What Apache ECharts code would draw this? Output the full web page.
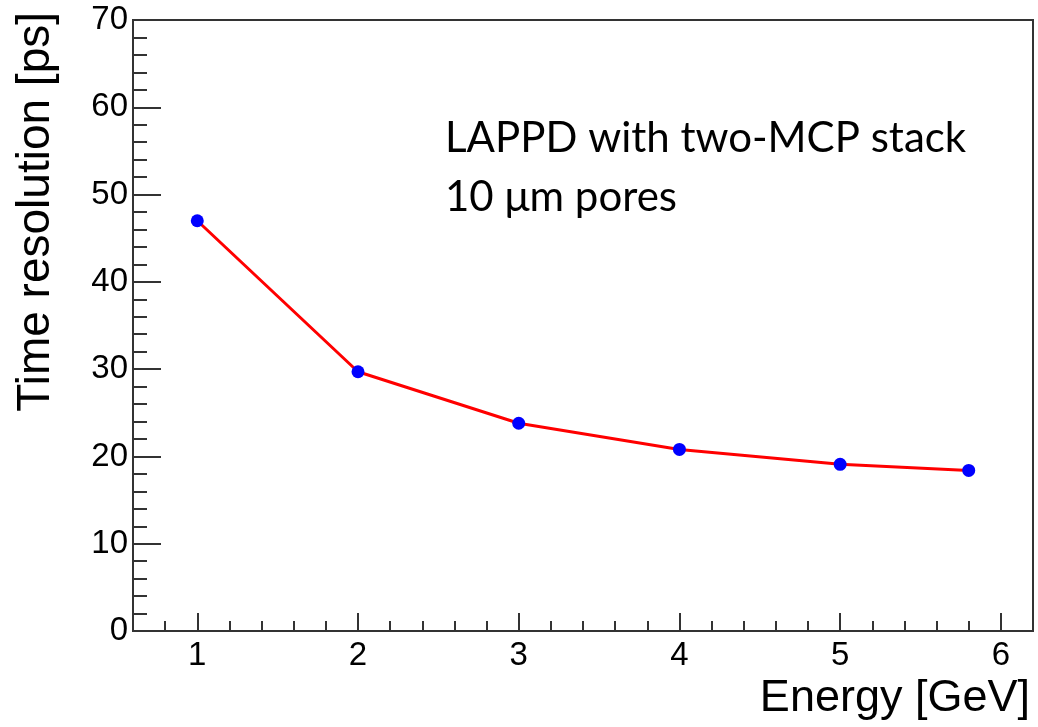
<!DOCTYPE html>
<html>
<head>
<meta charset="utf-8">
<script src="https://cdn.jsdelivr.net/npm/echarts@6/dist/echarts.min.js"></script>
<style>
html,body{margin:0;padding:0;background:#fff;}
#chart{width:1038px;height:727px;}
</style>
</head>
<body>
<div id="chart"></div>
<script>
// Data
const energy = [1, 2, 3, 4, 5, 5.8];
const resolution = [47.0, 29.7, 23.8, 20.8, 19.1, 18.4];
const xMajorTicks = [1, 2, 3, 4, 5, 6];
const xTitle = 'Energy [GeV]';
const yTitle = 'Time resolution [ps]';
const noteLines = ['LAPPD with two-MCP stack', '10 \u03bcm pores'];

const points = energy.map((e, i) => [e, resolution[i]]);
const axisFont = 'Liberation Sans';

const chart = echarts.init(document.getElementById('chart'), null, {renderer: 'canvas'});
chart.setOption({
  animation: false,
  backgroundColor: '#ffffff',
  grid: {
    left: 133, top: 20, right: 5, bottom: 96,
    show: true, borderColor: '#333', borderWidth: 2, backgroundColor: 'transparent'
  },
  xAxis: [
    {
      type: 'value', min: 0.6, max: 6.2, interval: 0.2, position: 'bottom',
      axisLine: {show: true, lineStyle: {color: '#333', width: 2}},
      axisTick: {show: true, inside: true, length: 10, lineStyle: {color: '#333', width: 2}},
      axisLabel: {show: false},
      splitLine: {show: false}
    },
    {
      type: 'value', min: 0.6, max: 6.2, position: 'bottom',
      axisLine: {show: false},
      axisTick: {show: true, inside: true, length: 18, customValues: xMajorTicks, lineStyle: {color: '#333', width: 2}},
      axisLabel: {show: true, customValues: xMajorTicks, fontFamily: axisFont, fontSize: 33, color: '#000', margin: 8},
      splitLine: {show: false}
    }
  ],
  yAxis: {
    type: 'value', min: 0, max: 70, interval: 10,
    axisLine: {show: true, lineStyle: {color: '#333', width: 2}},
    axisTick: {show: true, inside: true, length: 28, lineStyle: {color: '#333', width: 2}},
    minorTick: {show: true, splitNumber: 5, length: 14, lineStyle: {color: '#333', width: 2}},
    axisLabel: {fontFamily: axisFont, fontSize: 33, color: '#000', margin: 5},
    splitLine: {show: false}
  },
  graphic: [
    {
      type: 'text', x: 1030, y: 676,
      style: {text: xTitle, font: '45px "Liberation Sans"', fill: '#000', textAlign: 'right', textVerticalAlign: 'top'}
    },
    {
      type: 'text', x: 36, y: 12, rotation: Math.PI / 2,
      style: {text: yTitle, font: '46px "Liberation Sans"', fill: '#000', textAlign: 'right', textVerticalAlign: 'middle'}
    },
    {
      type: 'text', x: 445, y: 138,
      style: {text: noteLines[0], font: '42px Lato', fill: '#000', textAlign: 'left', textVerticalAlign: 'middle'}
    },
    {
      type: 'text', x: 445, y: 197,
      style: {text: noteLines[1], font: '42px Lato', fill: '#000', textAlign: 'left', textVerticalAlign: 'middle'}
    }
  ],
  series: [{
    type: 'line',
    xAxisIndex: 0,
    data: points,
    symbol: 'circle',
    symbolSize: 13,
    showSymbol: true,
    lineStyle: {color: '#ff0000', width: 3},
    itemStyle: {color: '#0000ff', borderWidth: 0},
    emphasis: {disabled: true},
    z: 3
  }]
});
</script>
</body>
</html>
